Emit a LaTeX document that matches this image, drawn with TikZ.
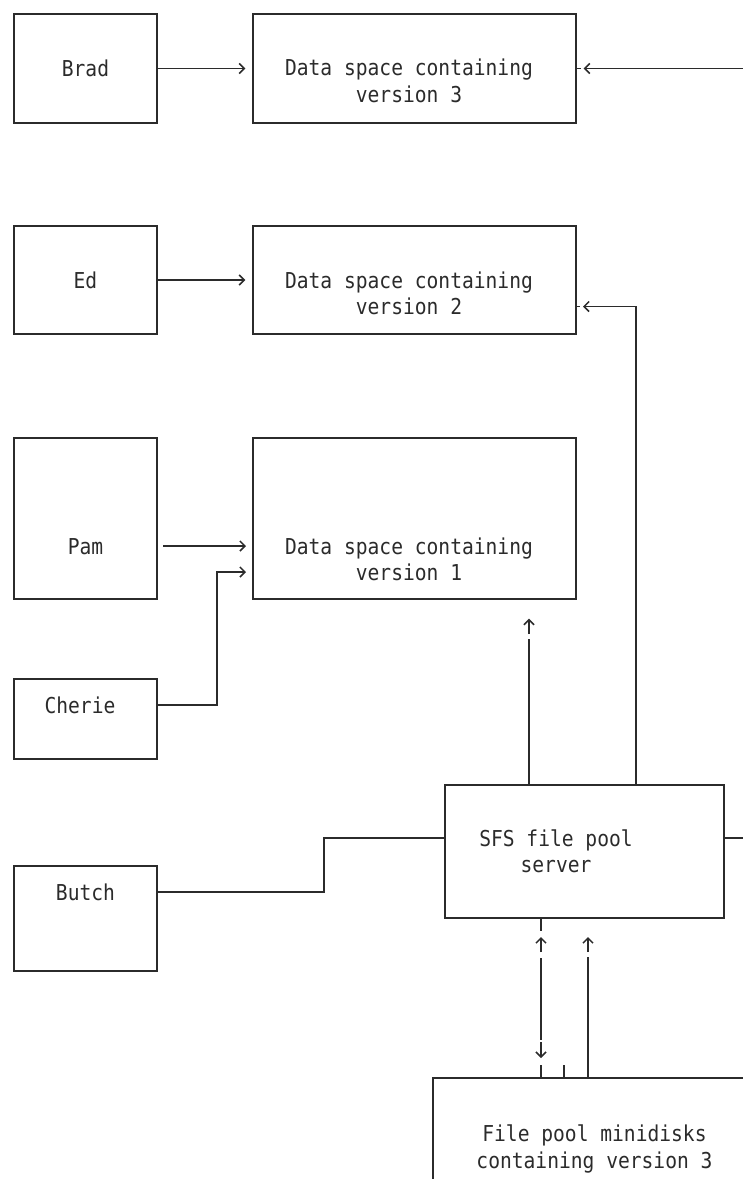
\documentclass[tikz,border=0pt]{standalone}
\usepackage{fontspec}
\newfontfamily\monof[FakeStretch=0.895]{DejaVu Sans Mono}
\usetikzlibrary{arrows.meta}
\definecolor{ink}{HTML}{2B2B2B}
\tikzset{
  box/.style={draw=ink, line width=1.4pt, inner sep=0pt},
  lbl/.style={text=ink, font=\monof\fontsize{21.9}{26.5}\selectfont, align=center, anchor=base, inner sep=0pt},
  wire/.style={draw=ink, line width=1.4pt},
  arr/.style={wire, -{Straight Barb[length=5pt,width=10pt,line width=1.5pt]}},
}
\begin{document}
\begin{tikzpicture}[x=1pt,y=-1pt]
\useasboundingbox (0,0) rectangle (743,1179);
\clip (0,0) rectangle (743,1179);
% boxes
\node[box, minimum width=143pt, minimum height=109pt] (brad) at (85.5,68.5) {};
\node[box, minimum width=323pt, minimum height=109pt] (d3) at (414.5,68.5) {};
\node[box, minimum width=143pt, minimum height=108pt] (ed) at (85.5,280) {};
\node[box, minimum width=323pt, minimum height=108pt] (d2) at (414.5,280) {};
\node[box, minimum width=143pt, minimum height=161pt] (pam) at (85.5,518.5) {};
\node[box, minimum width=323pt, minimum height=161pt] (d1) at (414.5,518.5) {};
\node[box, minimum width=143pt, minimum height=80pt] (cherie) at (85.5,719) {};
\node[box, minimum width=143pt, minimum height=105pt] (butch) at (85.5,918.5) {};
\node[box, minimum width=279pt, minimum height=133pt] (sfs) at (584.5,851.5) {};
\node[box, minimum width=400pt, minimum height=200pt] (mini) at (633,1178) {};
% texts (base anchor = baseline of last line)
\node[lbl] (bradt) at (85.5,76) {Brad};
\node[lbl] (d3t) at (409,102) {Data space containing\\version 3};
\node[lbl] (edt) at (85.5,288) {Ed};
\node[lbl] (d2t) at (409,314.5) {Data space containing\\version 2};
\node[lbl] (pamt) at (85.5,554) {Pam};
\node[lbl] (d1t) at (409,580.5) {Data space containing\\version 1};
\node[lbl] (chert) at (80,713) {Cherie};
\node[lbl] (butcht) at (85.5,900.5) {Butch};
\node[lbl] (sfst) at (556,872.5) {SFS file pool\\server};
\node[lbl] (minit) at (594.5,1168) {File pool minidisks\\containing version 3};
% coordinates
\coordinate (r3) at (743,68.5);
\coordinate (d2in) at (576,306.5);
\coordinate (s2) at (636,785);
\coordinate (p1) at (157,546);
\coordinate (d1a) at (253,546);
\coordinate (c1) at (157,705);
\coordinate (d1b) at (253,572);
\coordinate (s1) at (529,785);
\coordinate (s1g) at (529,639);
\coordinate (s1a) at (529,634);
\coordinate (b1) at (157,892);
\coordinate (s3) at (445,838);
\coordinate (s4) at (724,838);
\coordinate (r4) at (743,838);
\coordinate (q1) at (541,918);
\coordinate (q2) at (541,931);
\coordinate (q3) at (541,952);
\coordinate (q4) at (541,958);
\coordinate (q5) at (541,1040);
\coordinate (q6) at (541,1042);
\coordinate (q7) at (541,1065);
\coordinate (q8) at (541,1078);
\coordinate (t1) at (564,1065);
\coordinate (t2) at (564,1078);
\coordinate (u1) at (588,1078);
\coordinate (u2) at (588,957);
\coordinate (u3) at (588,952);
% connectors
\draw[arr, shorten >=7pt] (brad.east) -- (d3.west);
\draw[arr, shorten >=7pt] (r3) -- (d3.east);
\draw[wire] (d3.east) -- ++(4,0);
\draw[arr, shorten >=7pt] (ed.east) -- (d2.west);
\draw[arr, shorten >=7pt] (s2) |- (d2in);
\draw[wire] (d2in) -- ++(4,0);
\draw[arr, shorten <=6pt, shorten >=7pt] (p1) -- (d1a);
\draw[arr, shorten >=7pt] (c1) -- ++(60,0) |- (d1b);
\draw[wire] (s1) -- (s1g);
\draw[arr, shorten >=19pt] (s1a) -- (d1.south -| s1a);
\draw[wire] (b1) -- ++(167,0) |- (s3);
\draw[wire] (s4) -- (r4);
\draw[wire] (q1) -- (q2);
\draw[arr] (q3) -- ++(0,-15);
\draw[wire] (q4) -- (q5);
\draw[arr] (q6) -- ++(0,16);
\draw[wire] (q7) -- (q8);
\draw[wire] (t1) -- (t2);
\draw[wire] (u1) -- (u2);
\draw[arr] (u3) -- ++(0,-15);
\end{tikzpicture}
\end{document}
